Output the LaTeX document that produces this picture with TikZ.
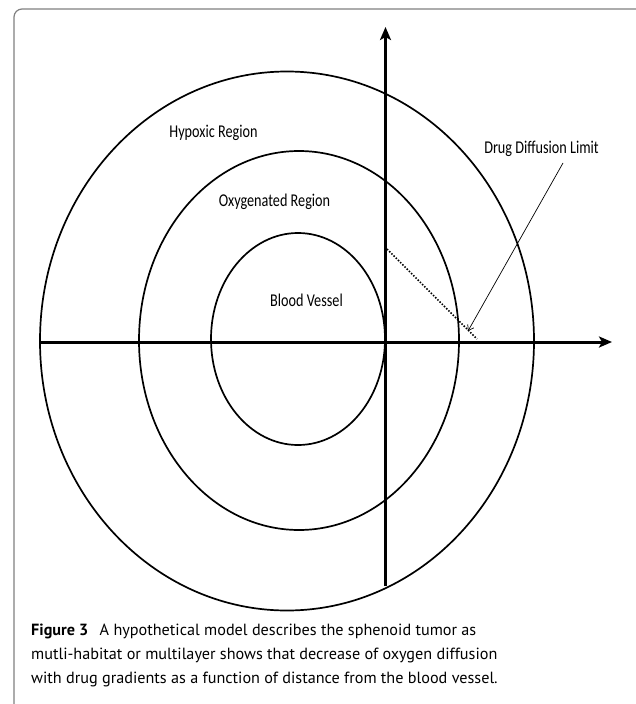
\documentclass[tikz,border=0pt]{standalone}
\usepackage{fontspec}
\usetikzlibrary{arrows.meta}
\newfontfamily\labelfont[FakeStretch=0.79]{Carlito}
\newfontfamily\capfont{PT Sans}

\begin{document}
\begin{tikzpicture}[x=1pt, y=-1pt,
  axis/.style={line width=3pt, -{Stealth[length=13pt,width=11pt,inset=3pt]}},
  layer/.style={line width=1.7pt},
  region/.style={font=\labelfont\fontsize{18}{20}\selectfont, inner sep=0pt, anchor=base},
  pointer/.style={line width=0.7pt, -{Straight Barb[length=5pt,width=7pt]}},
  frontier/.style={line width=1.5pt, dash pattern=on 1.5pt off 1.6pt},
  legend/.style={font=\capfont\fontsize{15.5}{23}\selectfont, align=left, inner sep=0pt, scale=1.045}]
\useasboundingbox (0,0) rectangle (635,704);
\draw[gray, line width=1.2pt, rounded corners=8pt] (14,9) rectangle (660,715);

\draw[layer] (287,341) ellipse [x radius=247, y radius=269.5];
\draw[layer] (299,340.5) ellipse [x radius=160, y radius=189.5];
\draw[layer] (298,339) ellipse [x radius=87, y radius=106];

\coordinate (west) at (40,342);
\coordinate (east) at (612,342);
\coordinate (south) at (385.5,586);
\coordinate (north) at (385.5,27);
\draw[axis] (west) -- (east);
\draw[axis] (south) -- (north);

\node[region] (hypoxic) at (213.5,137) {Hypoxic Region};
\node[region] (oxygen) at (274.5,206) {Oxygenated Region};
\node[region] (vessel) at (306.5,306) {Blood Vessel};
\node[region] (drug) at (541.5,153) {Drug Diffusion Limit};

\coordinate (front) at (387,249);
\coordinate (frontend) at (477,339);
\draw[frontier] (front) -- (frontend);
\coordinate (drugtail) at (563,163);
\coordinate (limit) at (468,331);
\draw[pointer] (drugtail) -- (limit);

\node[legend, anchor=north west] (caption) at (31,624)
  {\textbf{Figure 3}\hspace{0.7em}A hypothetical model describes the sphenoid tumor as\\
   mutli-habitat or multilayer shows that decrease of oxygen diffusion\\
   with drug gradients as a function of distance from the blood vessel.};
\end{tikzpicture}
\end{document}
